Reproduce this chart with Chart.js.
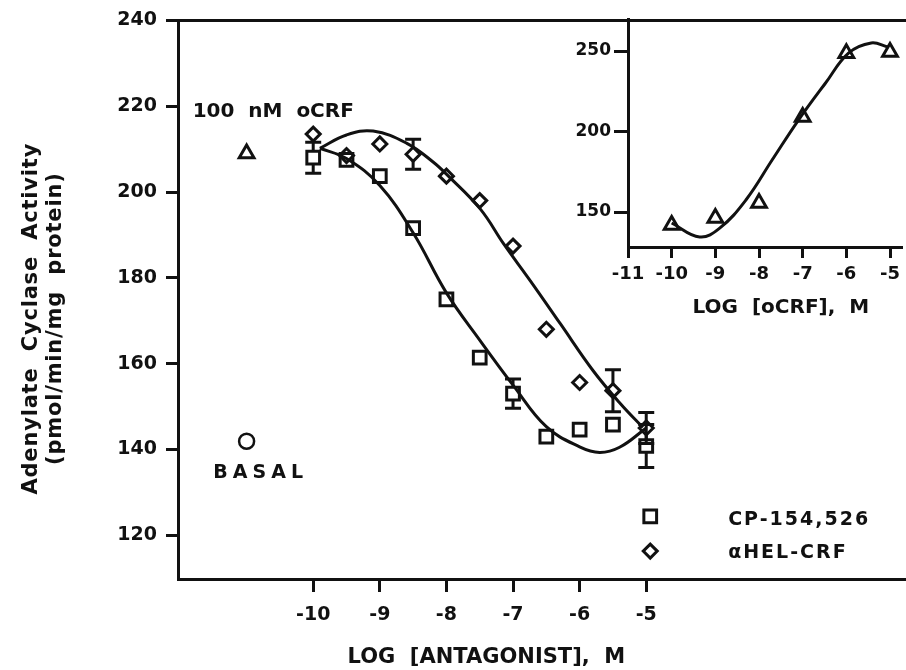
<!DOCTYPE html>
<html>
<head>
<meta charset="utf-8">
<script src="https://cdn.jsdelivr.net/npm/chart.js@4.4.1/dist/chart.umd.min.js"></script>
<style>
  html, body { margin: 0; padding: 0; background: #fff; }
  #wrap { position: relative; width: 906px; height: 670px; }
  #main { position: absolute; left: 0; top: 0; }
  #inset { position: absolute; left: 540px; top: 0; }
</style>
</head>
<body>
<div id="wrap">
  <canvas id="main" width="906" height="670"></canvas>
  <canvas id="inset" width="366" height="330"></canvas>
</div>
<script>
// main panel: antagonist dose (log M) vs adenylate cyclase activity
const doseX = [-10, -9.5, -9, -8.5, -8, -7.5, -7, -6.5, -6, -5.5, -5];
const cpY   = [208, 207.5, 203.7, 191.6, 175, 161.4, 153, 143, 144.6, 145.8, 140.8];
const cpErr = [3.6, null, null, null, null, null, 3.4, null, null, null, 5];
const helY   = [213.5, 208.5, 211.2, 208.8, 203.7, 198, 187.4, 168, 155.6, 153.7, 145];
const helErr = [null, null, null, 3.5, null, null, null, null, null, 4.9, 3.6];

const cpCurveX = [-9.9, -9.5, -9, -8.5, -8, -7.5, -7, -6.5, -6, -5.7, -5.4, -5];
const cpCurveY = [210.2, 207.8, 201.5, 190.5, 176.5, 165.5, 155, 145.3, 140.6, 139.3, 140.5, 145];
const helCurveX = [-9.9, -9.5, -9.1, -8.6, -8.2, -7.97, -7.49, -7.14, -6.74, -6.29, -5.8, -5.39, -5.05];
const helCurveY = [210.2, 213.3, 214.2, 211.4, 207, 203.7, 196, 187.9, 179.3, 169.3, 158.4, 150.7, 145.1];

const controlX = [-11];
const oCrfY = [209];
const basalY = [141.9];

const mainXTicks = [-10, -9, -8, -7, -6, -5];
const mainYTicks = [120, 140, 160, 180, 200, 220, 240];

// inset: oCRF dose response
const insetX = [-10, -9, -8, -7, -6, -5];
const insetY = [142, 146.3, 155.6, 209, 248.7, 249.4];
const insetCurveX = [-10, -9.36, -8.9, -8.3, -7.7, -7.1, -6.48, -5.95, -5.43, -5.05];
const insetCurveY = [143.2, 134.5, 140, 157.5, 182.3, 207, 230, 248.7, 255, 252.5];
const insetXTicks = [-11, -10, -9, -8, -7, -6, -5];
const insetYTicks = [150, 200, 250];

// annotation anchors (data units)
const legendMarkX = [-4.94];
const legendSquareY = [124.4];
const legendDiamondY = [116.3];
const legendTextX = -3.77;

const ink = '#111';
const fam = "'DejaVu Sans', sans-serif";

function pts(xs, ys) { return xs.map((v, i) => ({ x: v, y: ys[i] })); }

const errorBars = {
  id: 'errorBars',
  afterDatasetsDraw(chart) {
    const { ctx, scales: { x, y } } = chart;
    ctx.save();
    ctx.strokeStyle = ink;
    ctx.lineWidth = 3;
    [[cpY, cpErr, 7], [helY, helErr, 7]].forEach(([vals, errs, half]) => {
      errs.forEach((e, i) => {
        if (e == null) return;
        const px = x.getPixelForValue(doseX[i]);
        const py = y.getPixelForValue(vals[i]);
        const top = y.getPixelForValue(vals[i] + e);
        const bot = y.getPixelForValue(vals[i] - e);
        ctx.beginPath();
        ctx.moveTo(px, py - half); ctx.lineTo(px, top);
        ctx.moveTo(px - 8, top); ctx.lineTo(px + 8, top);
        ctx.moveTo(px, py + half); ctx.lineTo(px, bot);
        ctx.moveTo(px - 8, bot); ctx.lineTo(px + 8, bot);
        ctx.stroke();
      });
    });
    ctx.restore();
  }
};

const mainNotes = {
  id: 'mainNotes',
  afterDraw(chart) {
    const { ctx, scales: { x, y }, chartArea } = chart;
    ctx.save();
    // top frame line
    ctx.strokeStyle = ink;
    ctx.lineWidth = 3;
    ctx.beginPath();
    ctx.moveTo(chartArea.left - 1.5, chartArea.top);
    ctx.lineTo(chartArea.right, chartArea.top);
    ctx.stroke();

    ctx.fillStyle = ink;
    ctx.textBaseline = 'middle';
    ctx.textAlign = 'center';
    ctx.font = `bold 20px ${fam}`;
    ctx.fillText('100  nM  oCRF', x.getPixelForValue(-10.6), y.getPixelForValue(218.8));

    ctx.font = `bold 19px ${fam}`;
    ctx.letterSpacing = '5px';
    ctx.textAlign = 'left';
    ctx.fillText('BASAL', x.getPixelForValue(-11.5), y.getPixelForValue(134.4));

    ctx.letterSpacing = '2px';
    ctx.fillText('CP-154,526', x.getPixelForValue(legendTextX), y.getPixelForValue(123.5));
    ctx.fillText('\u03b1HEL-CRF', x.getPixelForValue(legendTextX), y.getPixelForValue(115.8));

    ctx.letterSpacing = '0px';
    ctx.textAlign = 'center';
    ctx.font = `bold 21px ${fam}`;
    ctx.fillText('LOG  [ANTAGONIST],  M', x.getPixelForValue(-7.4), chartArea.bottom + 79);

    // y axis title, two rotated lines
    ctx.save();
    ctx.translate(32, (chartArea.top + chartArea.bottom) / 2 + 19);
    ctx.rotate(-Math.PI / 2);
    ctx.letterSpacing = '0.8px';
    ctx.fillText('Adenylate  Cyclase  Activity', 0, 0);
    ctx.fillText('(pmol/min/mg  protein)', 0, 24);
    ctx.restore();
    ctx.restore();
  }
};

const axisCommon = (size, tickLen, pad) => ({
  grid: { drawOnChartArea: false, drawTicks: true, tickLength: tickLen, tickWidth: 3, tickColor: ink },
  border: { display: true, width: 3, color: ink },
  ticks: { color: ink, font: { family: fam, size: size, weight: 'bold' }, padding: pad,
           autoSkip: false, maxRotation: 0, callback: v => String(v) }
});

const scatterSet = (data, style, r, extra) => Object.assign({
  data, showLine: false, pointStyle: style, pointRadius: r, pointHoverRadius: r,
  pointBorderWidth: 3, pointBorderColor: ink, pointBackgroundColor: 'rgba(0,0,0,0)', clip: false
}, extra || {});

const curveSet = (data) => ({
  data, showLine: true, pointRadius: 0, borderColor: ink, borderWidth: 3,
  tension: 0.4, fill: false, clip: false
});

new Chart(document.getElementById('main'), {
  type: 'scatter',
  data: {
    datasets: [
      curveSet(pts(cpCurveX, cpCurveY)),
      curveSet(pts(helCurveX, helCurveY)),
      scatterSet(pts(doseX, cpY), 'rect', 9),
      scatterSet(pts(doseX, helY), 'rectRot', 7),
      scatterSet(pts(controlX, oCrfY), 'triangle', 8.5),
      scatterSet(pts(controlX, basalY), 'circle', 7.5, { pointBorderWidth: 2.5 }),
      scatterSet(pts(legendMarkX, legendSquareY), 'rect', 9),
      scatterSet(pts(legendMarkX, legendDiamondY), 'rectRot', 7)
    ]
  },
  options: {
    responsive: false,
    animation: false,
    events: [],
    layout: { autoPadding: false, padding: { top: 19, left: 0, right: 0, bottom: 0 } },
    plugins: { legend: { display: false }, tooltip: { enabled: false } },
    scales: {
      x: Object.assign(axisCommon(19, 13, 12), {
        type: 'linear', min: -12.03, max: -1.1,
        afterBuildTicks: s => { s.ticks = mainXTicks.map(v => ({ value: v })); },
        afterFit: s => { s.height = 91; }
      }),
      y: Object.assign(axisCommon(19, 12, 9), {
        type: 'linear', min: 109.8, max: 240,
        afterBuildTicks: s => { s.ticks = mainYTicks.map(v => ({ value: v })); },
        afterFit: s => { s.width = 178; }
      })
    }
  },
  plugins: [errorBars, mainNotes]
});

const insetNotes = {
  id: 'insetNotes',
  afterDraw(chart) {
    const { ctx, scales: { x }, chartArea } = chart;
    ctx.save();
    ctx.fillStyle = ink;
    ctx.textBaseline = 'middle';
    ctx.textAlign = 'center';
    ctx.font = `bold 20px ${fam}`;
    ctx.fillText('LOG  [oCRF],  M', x.getPixelForValue(-7.5), chartArea.bottom + 61);
    ctx.restore();
  }
};

new Chart(document.getElementById('inset'), {
  type: 'scatter',
  data: {
    datasets: [
      curveSet(pts(insetCurveX, insetCurveY)),
      scatterSet(pts(insetX, insetY), 'triangle', 8.5)
    ]
  },
  options: {
    responsive: false,
    animation: false,
    events: [],
    layout: { autoPadding: false, padding: { top: 19, left: 0, right: 0, bottom: 0 } },
    plugins: { legend: { display: false }, tooltip: { enabled: false } },
    scales: {
      x: Object.assign(axisCommon(18, 11, 6), {
        type: 'linear', min: -11, max: -4.71,
        afterBuildTicks: s => { s.ticks = insetXTicks.map(v => ({ value: v })); },
        afterFit: s => { s.height = 83; }
      }),
      y: Object.assign(axisCommon(17, 14, 3), {
        type: 'linear', min: 128.3, max: 269.9,
        afterBuildTicks: s => { s.ticks = insetYTicks.map(v => ({ value: v })); },
        afterFit: s => { s.width = 88; }
      })
    }
  },
  plugins: [insetNotes]
});
</script>
</body>
</html>
